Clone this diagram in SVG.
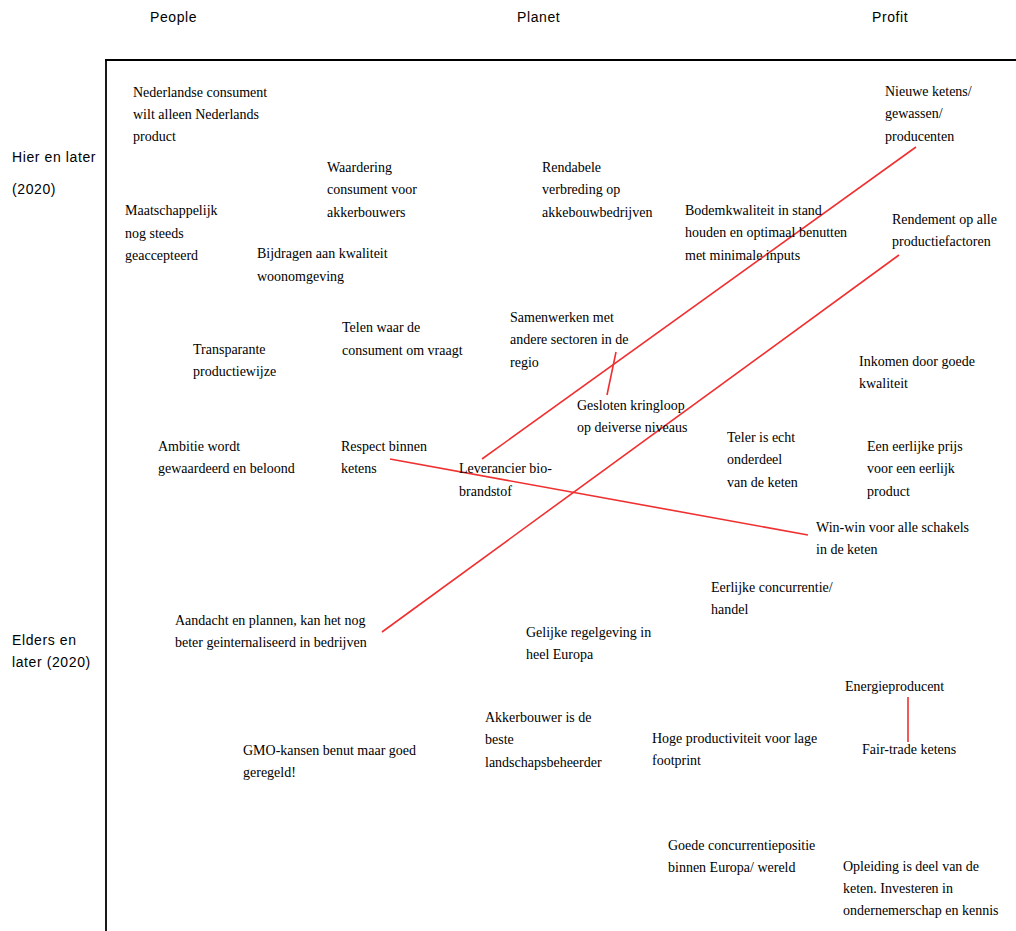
<svg xmlns="http://www.w3.org/2000/svg" width="1016" height="931" viewBox="0 0 1016 931">
<style>
.t{font-family:"Liberation Serif","Times New Roman",serif;font-size:14px;fill:#000}
.h{font-family:"Liberation Sans",Arial,sans-serif;font-size:14px;fill:#000;letter-spacing:0.6px}
.c{stroke:#f03030;stroke-width:1.6;fill:none}
.f{stroke:#000;fill:none}
</style>
<rect width="1016" height="931" fill="#fff"/>
<g id="frame">
<line class="f" x1="105" y1="60" x2="1016" y2="60" stroke-width="2"/>
<line class="f" x1="106" y1="59" x2="106" y2="931" stroke-width="1.8"/>
</g>
<g id="headers">
<text class="h" x="150" y="22">People</text>
<text class="h" x="517" y="22">Planet</text>
<text class="h" x="872" y="22">Profit</text>
<text class="h" x="12" y="162">Hier en later</text>
<text class="h" x="12" y="194">(2020)</text>
<text class="h" x="12" y="645">Elders en</text>
<text class="h" x="12" y="667">later (2020)</text>
</g>
<g id="connectors">
<line class="c" x1="482" y1="459" x2="916" y2="147"/>
<line class="c" x1="382" y1="632" x2="899" y2="255"/>
<line class="c" x1="390" y1="459" x2="808" y2="535"/>
<line class="c" x1="616" y1="352" x2="607" y2="395"/>
<line class="c" x1="908" y1="697" x2="908" y2="742"/>
</g>
<g id="n1"><text class="t" x="133" y="97">Nederlandse consument</text><text class="t" x="133" y="119">wilt alleen Nederlands</text><text class="t" x="133" y="141">product</text></g>
<g id="n2"><text class="t" x="327" y="172">Waardering</text><text class="t" x="327" y="194">consument voor</text><text class="t" x="327" y="217">akkerbouwers</text></g>
<g id="n3"><text class="t" x="125" y="215">Maatschappelijk</text><text class="t" x="125" y="238">nog steeds</text><text class="t" x="125" y="260">geaccepteerd</text></g>
<g id="n4"><text class="t" x="257" y="258">Bijdragen aan kwaliteit</text><text class="t" x="257" y="281">woonomgeving</text></g>
<g id="n5"><text class="t" x="542" y="172">Rendabele</text><text class="t" x="542" y="194">verbreding op</text><text class="t" x="542" y="217">akkebouwbedrijven</text></g>
<g id="n6"><text class="t" x="685" y="215">Bodemkwaliteit in stand</text><text class="t" x="685" y="237">houden en optimaal benutten</text><text class="t" x="685" y="260">met minimale inputs</text></g>
<g id="n7"><text class="t" x="885" y="96">Nieuwe ketens/</text><text class="t" x="885" y="118">gewassen/</text><text class="t" x="885" y="141">producenten</text></g>
<g id="n8"><text class="t" x="892" y="224">Rendement op alle</text><text class="t" x="892" y="246">productiefactoren</text></g>
<g id="n9"><text class="t" x="342" y="332">Telen waar de</text><text class="t" x="342" y="355">consument om vraagt</text></g>
<g id="n10"><text class="t" x="193" y="354">Transparante</text><text class="t" x="193" y="376">productiewijze</text></g>
<g id="n11"><text class="t" x="510" y="322">Samenwerken met</text><text class="t" x="510" y="344">andere sectoren in de</text><text class="t" x="510" y="367">regio</text></g>
<g id="n12"><text class="t" x="859" y="366">Inkomen door goede</text><text class="t" x="859" y="388">kwaliteit</text></g>
<g id="n13"><text class="t" x="577" y="410">Gesloten kringloop</text><text class="t" x="577" y="432">op deiverse niveaus</text></g>
<g id="n14"><text class="t" x="158" y="451">Ambitie wordt</text><text class="t" x="158" y="473">gewaardeerd en beloond</text></g>
<g id="n15"><text class="t" x="341" y="451">Respect binnen</text><text class="t" x="341" y="473">ketens</text></g>
<g id="n16"><text class="t" x="727" y="442">Teler is echt</text><text class="t" x="727" y="464">onderdeel</text><text class="t" x="727" y="487">van de keten</text></g>
<g id="n17"><text class="t" x="867" y="451">Een eerlijke prijs</text><text class="t" x="867" y="473">voor een eerlijk</text><text class="t" x="867" y="496">product</text></g>
<g id="n18"><text class="t" x="459" y="473">Leverancier bio-</text><text class="t" x="459" y="496">brandstof</text></g>
<g id="n19"><text class="t" x="816" y="532">Win-win voor alle schakels</text><text class="t" x="816" y="554">in de keten</text></g>
<g id="n20"><text class="t" x="711" y="592">Eerlijke concurrentie/</text><text class="t" x="711" y="614">handel</text></g>
<g id="n21"><text class="t" x="175" y="625">Aandacht en plannen, kan het nog</text><text class="t" x="175" y="647">beter geinternaliseerd in bedrijven</text></g>
<g id="n22"><text class="t" x="526" y="637">Gelijke regelgeving in</text><text class="t" x="526" y="659">heel Europa</text></g>
<g id="n23"><text class="t" x="845" y="691">Energieproducent</text></g>
<g id="n24"><text class="t" x="485" y="722">Akkerbouwer is de</text><text class="t" x="485" y="744">beste</text><text class="t" x="485" y="767">landschapsbeheerder</text></g>
<g id="n25"><text class="t" x="652" y="743">Hoge productiviteit voor lage</text><text class="t" x="652" y="765">footprint</text></g>
<g id="n26"><text class="t" x="862" y="754">Fair-trade ketens</text></g>
<g id="n27"><text class="t" x="243" y="755">GMO-kansen benut maar goed</text><text class="t" x="243" y="777">geregeld!</text></g>
<g id="n28"><text class="t" x="668" y="850">Goede concurrentiepositie</text><text class="t" x="668" y="872">binnen Europa/ wereld</text></g>
<g id="n29"><text class="t" x="843" y="871">Opleiding is deel van de</text><text class="t" x="843" y="893">keten. Investeren in</text><text class="t" x="843" y="915">ondernemerschap en kennis</text></g>
</svg>
